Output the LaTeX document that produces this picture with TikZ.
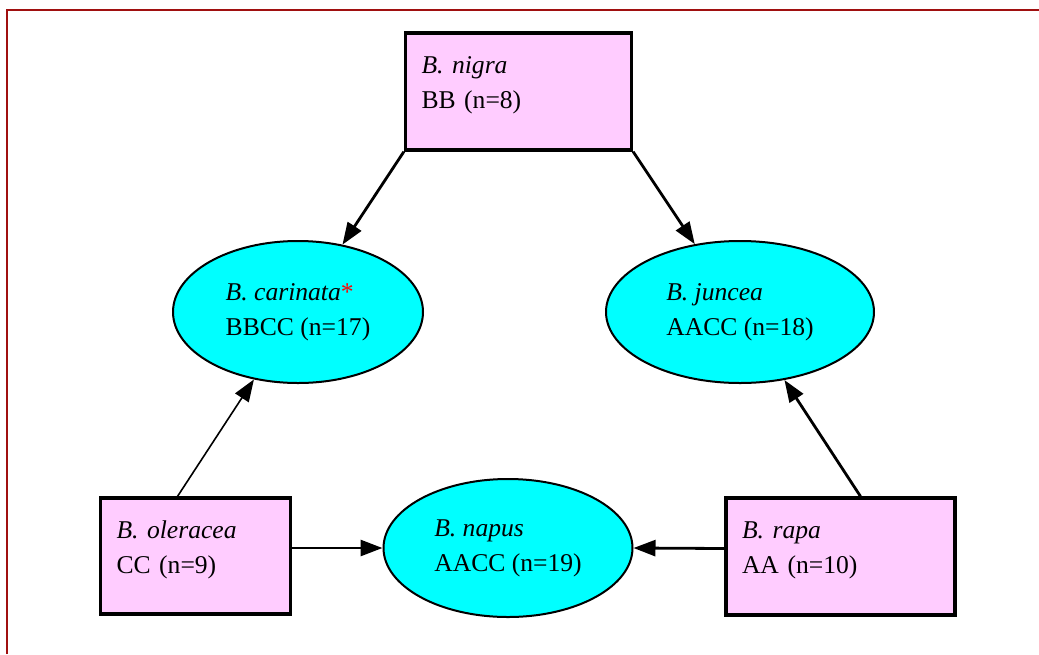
\documentclass[tikz,border=0pt]{standalone}
\usepackage{fontspec}
\setmainfont{Liberation Serif}
\usetikzlibrary{arrows.meta, shapes.geometric}
\definecolor{parentpink}{HTML}{FFCCFF}
\definecolor{hybridcyan}{HTML}{00FFFF}
\definecolor{framered}{HTML}{A01010}

\begin{document}
\begin{tikzpicture}[x=0.5pt,y=-0.5pt,>={Triangle[length=11pt,width=8pt]},
    font=\fontsize{12.8}{17.5}\selectfont,
    parent/.style={draw,line width=1.6pt,fill=parentpink,align=left,inner xsep=8pt,text depth=26pt,minimum height=58.5pt},
    hybrid/.style={ellipse,draw,line width=1pt,fill=hybridcyan,align=left,inner sep=0pt},
    cross/.style={->,line width=1.4pt}]
      \useasboundingbox (0,0) rectangle (1039,654);
      \draw[framered,line width=1pt] (7,654) -- (7,10) -- (1039,10);
      % diploid parents
      \node[parent,text width=97pt] (nigra) at (518.5,91.5) {\textit{B. nigra}\\BB (n=8)};
      \node[parent,text width=79pt,minimum height=58pt] (oleracea) at (195.5,556) {\textit{B. oleracea}\\CC (n=9)};
      \node[parent,text width=98.5pt] (rapa) at (840.5,556.5) {\textit{B. rapa}\\AA (n=10)};
      % amphidiploids
      \node[hybrid,minimum width=125pt,minimum height=71pt] (carinata) at (298,312) {\textit{B. carinata}\textcolor{red}{*}\\BBCC (n=17)};
      \node[hybrid,minimum width=134pt,minimum height=71pt] (juncea) at (740,312) {\textit{B. juncea}\\AACC (n=18)};
      \node[hybrid,minimum width=124.5pt,minimum height=69pt] (napus) at (508,548) {\textit{B. napus}\\AACC (n=19)};
      \path (nigra.south west) edge[cross] (carinata)
        (nigra.south east) edge[cross] (juncea)
        ([xshift=-9pt]oleracea.north) edge[->,line width=0.8pt] (carinata)
        ([xshift=10pt]rapa.north) edge[cross] (juncea)
        ([yshift=4pt]oleracea.east) edge[cross] (napus.west)
        ([yshift=4pt]rapa.west) edge[cross] (napus.east);
    \end{tikzpicture}
\end{document}
